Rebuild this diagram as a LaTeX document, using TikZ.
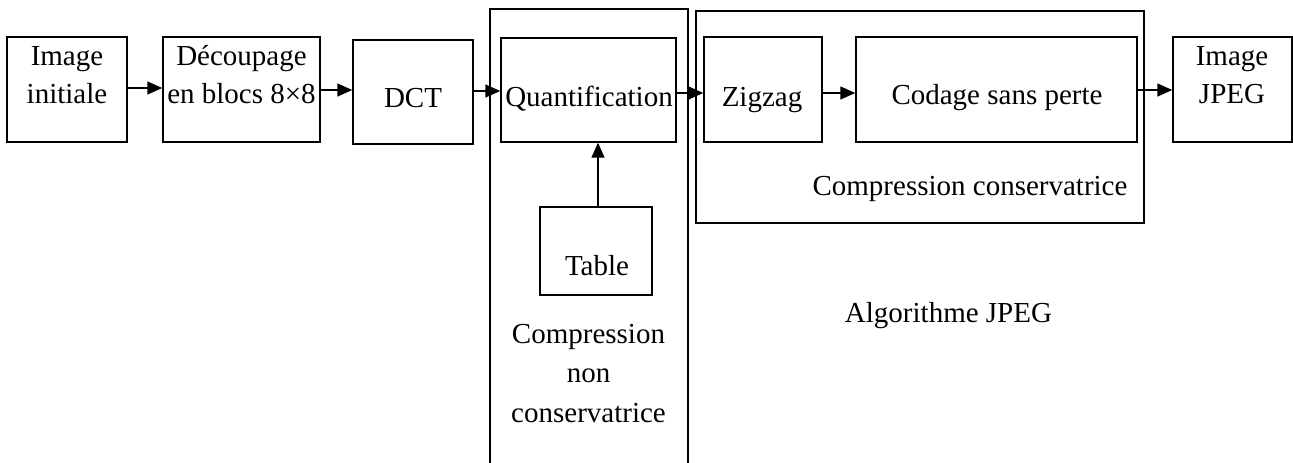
\documentclass[tikz,border=0pt]{standalone}
\usepackage{fontspec}
\setmainfont{Liberation Serif}
\usetikzlibrary{arrows.meta}
\newcommand\tstrut{\rule{0pt}{24pt}}
\begin{document}
\begin{tikzpicture}[x=1pt,y=-1pt,
  box/.style={draw, line width=1.4pt, inner sep=0pt, minimum width=#1},
  txt/.style={anchor=north, inner sep=0pt, align=center, font=\fontsize{29}{38.5}\selectfont},
  arr/.style={line width=1.4pt, -{Triangle[length=15pt,width=13pt]}},
  grp/.style={draw, line width=1.4pt}
]
\useasboundingbox (0,0) rectangle (1293,463);

% group frames
\draw[grp] (490,463) -- (490,9) -- (688,9) -- (688,463);
\node[box=448pt, minimum height=212pt] (lossless) at (920,117) {};

% boxes
\node[box=120pt, minimum height=105pt] (img)   at (67,89.5) {};
\node[box=157pt, minimum height=105pt] (dec)   at (241.5,89.5) {};
\node[box=120pt, minimum height=104pt] (dct)   at (413,92) {};
\node[box=175pt, minimum height=104pt] (quant) at (588.5,90) {};
\node[box=112pt, minimum height=88pt]  (table) at (596,251) {};
\node[box=118pt, minimum height=105pt] (zig)   at (763,89.5) {};
\node[box=281pt, minimum height=105pt] (cod)   at (996.5,89.5) {};
\node[box=119pt, minimum height=105pt] (jpeg)  at (1232.5,89.5) {};

% texts
\node[txt] (img-t)   at (67,41)     {\tstrut Image\\initiale};
\node[txt] (dec-t)   at (241.5,41)  {\tstrut Découpage\\en blocs 8×8};
\node[txt] (dct-t)   at (413,83)    {\tstrut DCT};
\node[txt] (quant-t) at (589,82)    {\tstrut Quantification};
\node[txt] (table-t) at (597,251)   {\tstrut Table};
\node[txt, font=\fontsize{29}{39.5}\selectfont] (lossy-t) at (588.5,319) {\tstrut Compression\\non\\conservatrice};
\node[txt] (zig-t)   at (762,82)    {\tstrut Zigzag};
\node[txt] (cod-t)   at (997,80)    {\tstrut Codage sans perte};
\node[txt] (lossless-t) at (970,171) {\tstrut Compression conservatrice};
\node[txt] (jpeg-t)  at (1232,41)   {\tstrut Image\\JPEG};
\node[txt] (algo-t)  at (948.5,298) {\tstrut Algorithme JPEG};

% connectors
\draw[arr] ([yshift=1.5pt]img.east) -- ([yshift=1.5pt]dec.west);
\draw[arr] ([yshift=-0.5pt]dec.east) -- ([yshift=2pt]dct.west);
\draw[arr] ([yshift=1pt]dct.east) -- ([yshift=-1pt]quant.west);
\draw[arr] ([yshift=-3pt]quant.east) -- ([yshift=-3.5pt]zig.west);
\draw[arr] ([yshift=-3.5pt]zig.east) -- ([yshift=-3.5pt]cod.west);
\draw[arr] ([yshift=-0.5pt]cod.east) -- ([yshift=-0.5pt]jpeg.west);
\draw[arr] ([xshift=2pt]table.north) -- ([xshift=2pt]table.north |- quant.south);
\end{tikzpicture}
\end{document}
